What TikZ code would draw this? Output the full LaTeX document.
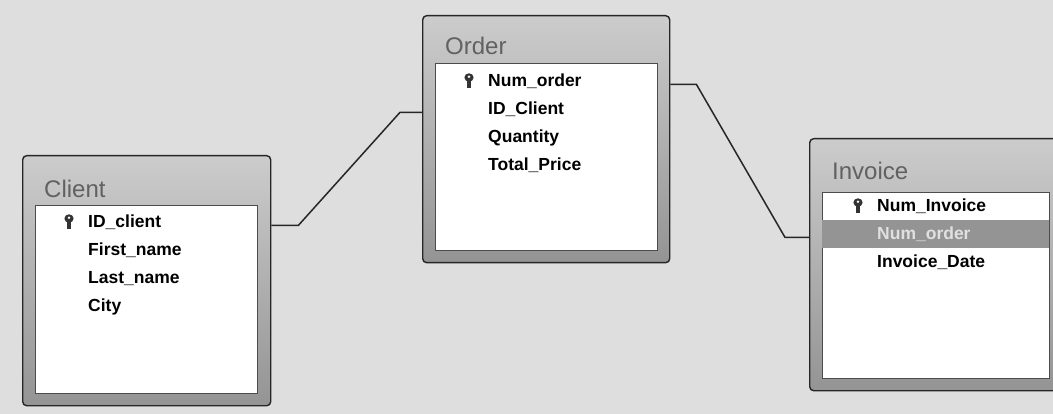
\documentclass[tikz,border=0pt]{standalone}
\usepackage{fontspec}
\setmainfont{Liberation Sans}
\usetikzlibrary{calc}
\begin{document}
\begin{tikzpicture}[x=1pt,y=-1pt,
	pkey/.pic={\fill[black!80] (0,-3.5) ellipse (4.6 and 4.2); \fill[white] (0,-4.2) circle (1.4); \fill[black!80] (-1.6,-1) rectangle (1.6,7.5);}] %% tikz
	\tikzstyle{tbl}=[draw=black!85,line width=1.4pt,top color=black!20,bottom color=black!42,rounded corners=4pt,anchor=north west,inner sep=0pt];
	\tikzstyle{well}=[draw=black!70,line width=0.9pt,fill=white,anchor=north west,inner sep=0pt];
	\tikzstyle{ttl}=[anchor=base west,inner sep=0pt,text=black!62,font=\fontsize{24}{24}\selectfont];
	\tikzstyle{fld}=[anchor=base west,inner sep=0pt,font=\bfseries\fontsize{17.5}{17.5}\selectfont];
	\tikzstyle{rel}=[draw=black!85,line width=1.5pt];
	\clip (0,0) rectangle (1053,414);
	\fill[black!13] (0,0) rectangle (1053,414);
	%% Client
	\node[tbl,minimum width=248,minimum height=250] (client) at (22,155) {};
	\node[well,minimum width=222,minimum height=188] (cwell) at (35,205) {};
	\node[ttl] (ctitle) at (44,198) {Client};
	\foreach \t [count=\i] in {ID\_client,First\_name,Last\_name,City}
		\node[fld] (c\i) at (88,200+28*\i) {\t};
	\pic at (69,222) {pkey};
	%% Order
	\node[tbl,minimum width=247,minimum height=247] (order) at (422,15) {};
	\node[well,minimum width=222,minimum height=187] (owell) at (435,63) {};
	\node[ttl] (otitle) at (445,55) {Order};
	\foreach \t [count=\i] in {Num\_order,ID\_Client,Quantity,Total\_Price}
		\node[fld] (o\i) at (488,59+28*\i) {\t};
	\pic at (469,81) {pkey};
	%% Invoice
	\node[tbl,minimum width=253,minimum height=252] (invoice) at (809,138) {};
	\node[well,minimum width=227,minimum height=186] (iwell) at (822,192) {};
	\fill[black!42] (822,220) rectangle (1049,248);
	\node[ttl] (ititle) at (832,180) {Invoice};
	\node[fld] (i1) at (877,212) {Num\_Invoice};
	\node[fld,text=black!12] (i2) at (877,240) {Num\_order};
	\node[fld] (i3) at (877,268) {Invoice\_Date};
	\pic at (858,206) {pkey};
	%% relations
	\draw[rel] (c1.mid -| client.east) -- ++(27,0) -- ($(o2.mid -| order.west)+(-22,0)$) -- (o2.mid -| order.west);
	\draw[rel] (o1.mid -| order.east) -- ++(26,0) -- ($(i2.mid -| invoice.west)+(-24,0)$) -- (i2.mid -| invoice.west);
\end{tikzpicture}
\end{document}
